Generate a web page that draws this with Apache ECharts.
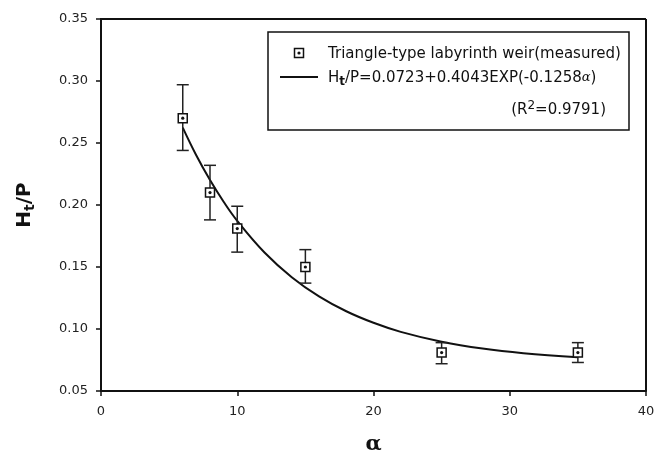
<!DOCTYPE html>
<html>
<head>
<meta charset="utf-8">
<script src="https://cdn.jsdelivr.net/npm/echarts@6/dist/echarts.min.js"></script>
<style>
html,body{margin:0;padding:0;background:#fff;}
#chart{width:671px;height:454px;}
</style>
</head>
<body>
<div id="chart"></div>
<script>
const alpha = [6, 8, 10, 15, 25, 35];
const htp = [0.270, 0.210, 0.181, 0.150, 0.081, 0.081];
const errHigh = [0.297, 0.232, 0.199, 0.164, 0.089, 0.089];
const errLow = [0.244, 0.188, 0.162, 0.137, 0.072, 0.073];
// Fitted curve samples
const fitAlpha = [6, 7, 8, 9, 10, 12, 14, 16, 18, 20, 22, 25, 28, 31, 35];
const fitHtp = [0.2624, 0.2399, 0.2201, 0.2026, 0.1872, 0.1617, 0.1418, 0.1263, 0.1143, 0.1050, 0.0977, 0.0897, 0.0842, 0.0805, 0.0773];
// Axis tick labels
const xTicks = [0, 10, 20, 30, 40];
const yTicks = ['0.05', '0.10', '0.15', '0.20', '0.25', '0.30', '0.35'];

const legendLabel1 = 'Triangle-type labyrinth weir(measured)';
const font = '"DejaVu Sans", sans-serif';

const chart = echarts.init(document.getElementById('chart'));

const measured = alpha.map((a, i) => [a, htp[i], errLow[i], errHigh[i]]);
const fit = fitAlpha.map((a, i) => [a, fitHtp[i]]);

function markerShapes(cx, cy, z) {
  return [
    {type: 'rect', z: z, shape: {x: cx - 4.5, y: cy - 4.5, width: 9, height: 9},
     style: {fill: '#fff', stroke: '#111', lineWidth: 1.5}},
    {type: 'circle', z: z === undefined ? undefined : z + 1, shape: {cx: cx, cy: cy, r: 1.6}, style: {fill: '#111'}}
  ];
}

const option = {
  backgroundColor: '#fff',
  animation: false,
  grid: {left: 101, right: 25, top: 19, bottom: 63, show: false, containLabel: false, outerBoundsMode: 'none'},
  xAxis: {
    type: 'value', min: xTicks[0], max: xTicks[xTicks.length - 1], interval: 10,
    name: 'α', nameLocation: 'middle', nameGap: 43,
    nameTextStyle: {fontFamily: '"DejaVu Serif", serif', fontSize: 21, fontWeight: 'bold', color: '#111'},
    axisLine: {onZero: false, lineStyle: {color: '#111', width: 2}},
    axisTick: {show: true, length: 5, lineStyle: {color: '#111', width: 1.5}},
    axisLabel: {fontFamily: font, fontSize: 13, color: '#222', margin: 14},
    splitLine: {show: false}
  },
  yAxis: {
    type: 'value', min: 0.05, max: 0.35, interval: 0.05,
    name: '{b|H}{s|t}{b|/P}', nameLocation: 'middle', nameGap: 64,
    nameTextStyle: {
      rich: {
        b: {fontFamily: font, fontSize: 20, fontWeight: 'bold', color: '#111'},
        s: {fontFamily: font, fontSize: 14, fontWeight: 'bold', color: '#111', padding: [10, 0, 0, 0]}
      }
    },
    axisLine: {onZero: false, lineStyle: {color: '#111', width: 2}},
    axisTick: {show: true, length: 5, lineStyle: {color: '#111', width: 1.5}},
    axisLabel: {fontFamily: font, fontSize: 13, color: '#222', margin: 13,
      formatter: v => yTicks.find(t => Math.abs(parseFloat(t) - v) < 1e-9) || v.toFixed(2)},
    splitLine: {show: false}
  },
  graphic: [
    // top & right border of the plot frame
    {type: 'line', shape: {x1: 100, y1: 19, x2: 646, y2: 19}, style: {stroke: '#111', lineWidth: 2}, z: 10},
    {type: 'line', shape: {x1: 646, y1: 19, x2: 646, y2: 391}, style: {stroke: '#111', lineWidth: 2}, z: 10},
    // legend box
    {type: 'rect', shape: {x: 268, y: 32, width: 361, height: 98},
     style: {fill: '#fff', stroke: '#111', lineWidth: 1.5}, z: 20}
  ].concat(markerShapes(299, 53, 22)).concat([
    {type: 'line', shape: {x1: 280, y1: 77, x2: 318, y2: 77}, style: {stroke: '#111', lineWidth: 2}, z: 21},
    {type: 'text', x: 328, y: 54, z: 21,
     style: {text: legendLabel1, font: '15px ' + font, fill: '#111', verticalAlign: 'middle'}},
    {type: 'text', x: 328, y: 78, z: 21,
     style: {
       text: '{n|H}{s|t}{n|/P=0.0723+0.4043EXP(-0.1258}{i|α}{n|)}',
       verticalAlign: 'middle',
       rich: {
         n: {fontFamily: font, fontSize: 15, fill: '#111'},
         s: {fontFamily: font, fontSize: 12, fontWeight: 'bold', fill: '#111', padding: [8, 0, 0, 0]},
         i: {fontFamily: '"DejaVu Serif", serif', fontSize: 13, fontStyle: 'italic', fill: '#111'}
       }
     }},
    {type: 'text', x: 606, y: 110, z: 21,
     style: {
       text: '{n|(R}{p|2}{n|=0.9791)}',
       align: 'right', verticalAlign: 'middle',
       rich: {
         n: {fontFamily: font, fontSize: 15, fill: '#111'},
         p: {fontFamily: font, fontSize: 12, fill: '#111', padding: [0, 0, 8, 0]}
       }
     }}
  ]),
  series: [
    {
      type: 'line', data: fit, smooth: 0.4, showSymbol: false, symbol: 'none',
      lineStyle: {color: '#111', width: 2}, z: 2, silent: true
    },
    {
      type: 'custom', z: 3,
      data: measured,
      renderItem: function (params, api) {
        const x = api.value(0);
        const c = api.coord([x, api.value(1)]);
        const lo = api.coord([x, api.value(2)]);
        const hi = api.coord([x, api.value(3)]);
        const cap = 6;
        const st = {stroke: '#222', lineWidth: 1.5};
        const children = [
          {type: 'line', shape: {x1: c[0], y1: hi[1], x2: c[0], y2: lo[1]}, style: st},
          {type: 'line', shape: {x1: c[0] - cap, y1: hi[1], x2: c[0] + cap, y2: hi[1]}, style: st},
          {type: 'line', shape: {x1: c[0] - cap, y1: lo[1], x2: c[0] + cap, y2: lo[1]}, style: st}
        ].concat(markerShapes(c[0], c[1]));
        return {type: 'group', children: children};
      }
    }
  ]
};
chart.setOption(option);
</script>
</body>
</html>
